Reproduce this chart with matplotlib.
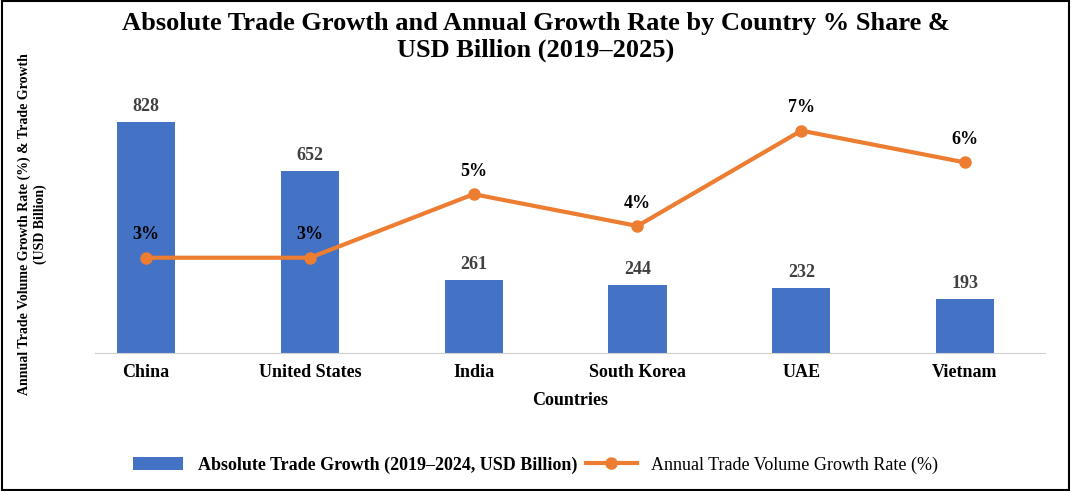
import matplotlib.pyplot as plt
from matplotlib.patches import Rectangle

countries = ["China", "United States", "India", "South Korea", "UAE", "Vietnam"]
trade_growth = [828, 652, 261, 244, 232, 193]
growth_rate = [3, 3, 5, 4, 7, 6]

plt.rcParams['font.family'] = ['Liberation Serif', 'DejaVu Serif']
blue = "#4472C4"
orange = "#ED7D31"

fig = plt.figure(figsize=(10.71, 4.91), dpi=100)
ax = fig.add_axes([0.089, 0.281, 0.887, 0.526])
x = list(range(len(countries)))
bars = ax.bar(x, trade_growth, width=0.355, color=blue,
              label="Absolute Trade Growth (2019\u20132024, USD Billion)")
for xi, v in zip(x, trade_growth):
    ax.text(xi, v + 25, str(v), ha='center', va='bottom', fontsize=13,
            fontweight='bold', color='#404040')
ax.set_xlim(-0.31, 5.49)
ax.set_ylim(0, 925)
ax.set_yticks([])
for s in ['top', 'right', 'left']:
    ax.spines[s].set_visible(False)
ax.spines['bottom'].set_color('#d0d0d0')
ax.set_xticks(x)
ax.set_xticklabels(countries, fontsize=13, fontweight='bold')
ax.tick_params(axis='x', length=0, pad=8)
ax.set_xlabel("Countries", fontsize=13, fontweight='bold', labelpad=8)
ax.set_ylabel("Annual Trade Volume Growth Rate (%) & Trade Growth\n(USD Billion)",
              fontsize=10, fontweight='bold', labelpad=35)

ax2 = ax.twinx()
line, = ax2.plot(x, growth_rate, color=orange, lw=3, marker='o', ms=8,
                 label="Annual Trade Volume Growth Rate (%)")
for xi, v in zip(x, growth_rate):
    ax2.text(xi, v + 0.45, f"{v}%", ha='center', va='bottom', fontsize=13,
             fontweight='bold')
ax2.set_ylim(0, 8.13)
ax2.set_yticks([])
for s in ax2.spines.values():
    s.set_visible(False)

fig.suptitle("Absolute Trade Growth and Annual Growth Rate by Country % Share &\nUSD Billion (2019\u20132025)",
             fontsize=19, fontweight='bold', y=0.975)
leg = fig.legend(handles=[bars, line], loc='center', bbox_to_anchor=(0.5, 0.053),
                 ncol=2, frameon=False, fontsize=13, handlelength=2.8,
                 columnspacing=0.5, prop={'weight': 'bold', 'size': 13})
leg.get_texts()[1].set_fontweight('normal')
fig.patches.append(Rectangle((0.002, 0.003), 0.996, 0.994, transform=fig.transFigure,
                             fill=False, edgecolor='black', lw=1.5))
fig.savefig("out.png", dpi=100)
